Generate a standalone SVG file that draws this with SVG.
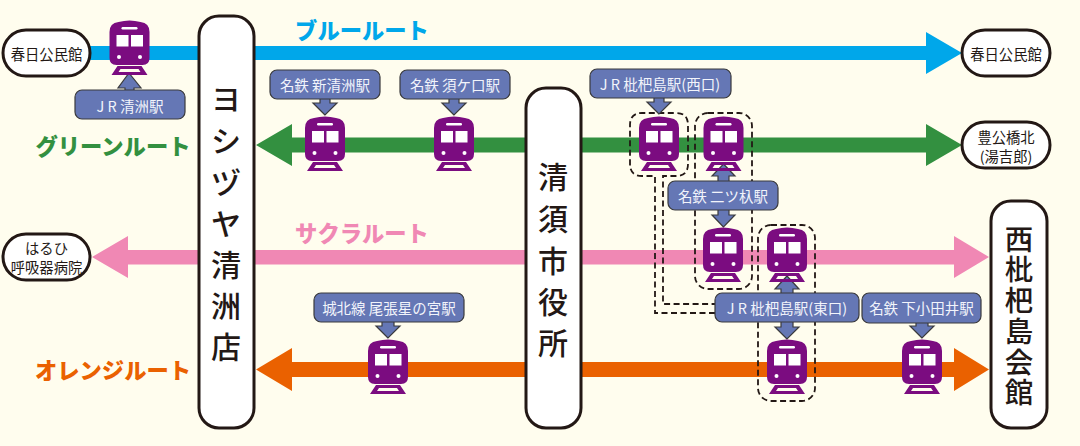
<svg xmlns="http://www.w3.org/2000/svg" xmlns:xlink="http://www.w3.org/1999/xlink" width="1080" height="446" viewBox="0 0 1080 446">
<style>
text{font-family:"Noto Sans CJK JP","Noto Sans",sans-serif;text-anchor:middle;dominant-baseline:central}
.pill,.big{fill:#fff;stroke:#231815;stroke-width:3}
.pt{font-size:14.300px;fill:#231815}
.bt{font-size:30px;fill:#231815;font-weight:500}
.bs{font-size:28.500px;fill:#231815;font-weight:500}
.lab{fill:#6577b5;stroke:#3a3a3c;stroke-width:1.2}
.lt{font-size:14.500px;fill:#f2f4fb}
.ar{fill:#6577b5;stroke:#3a3a3c;stroke-width:1.2;stroke-linejoin:miter}
.rt{font-size:22.300px;font-weight:900}
.dash{fill:none;stroke:#231815;stroke-width:1.8;stroke-dasharray:6 3.5}
</style>
<defs>
<g id="train">
<path d="M-20 12Q-20 3-11 2Q0 -1 11 2Q20 3 20 12V38Q20 45 13 45H-13Q-20 45-20 38Z" fill="#7b0c80"/>
<rect x="-8" y="7" width="16" height="2.500" rx="1.200" fill="#fff"/>
<rect x="-13" y="15" width="12" height="11.500" fill="#fff"/>
<rect x="1.500" y="15" width="12" height="11.500" fill="#fff"/>
<circle cx="-10.500" cy="37" r="2" fill="#fff"/>
<circle cx="10.500" cy="37" r="2" fill="#fff"/>
<path d="M-12 46H12L18 55H-18ZM-9 49L-11 52H11L9 49Z" fill="#7b0c80" fill-rule="evenodd"/>
</g>
</defs>
<rect width="1080" height="446" fill="#fffdee"/>
<g id="connectors">
<polygon fill="#00a7ea" points="85,46 926,46 926,32 962,53 926,74 926,60 85,60"/>
<polygon fill="#339040" points="926,137.500 926,124 962,145 926,166 926,152.500 292,152.500 292,166 256,145 292,124 292,137.500"/>
<polygon fill="#f088b4" points="954,250 954,236 989,257 954,278 954,264.500 128,264.500 128,278 92,257 128,236 128,250"/>
<polygon fill="#ea6100" points="954,362 954,348 989,369.500 954,391 954,377 292,377 292,391 256,369.500 292,348 292,362"/>
<path class="dash" d="M715 313H655V176H642Q630 176 630 164V125Q630 113 642 113H676Q688 113 688 125V164Q688 176 676 176H663V304H715"/>
<rect class="dash" x="695" y="113" width="57" height="176" rx="13"/>
<rect class="dash" x="758" y="225" width="57" height="176" rx="13"/>
<path class="ar" d="M129 73L141 88H134V91H125V88H118Z"/>
<path class="ar" d="M325 115L313 103H320V98H330V103H337Z"/>
<path class="ar" d="M454 115L442 103H449V98H459V103H466Z"/>
<path class="ar" d="M659 114L647 102H654V97H664V102H671Z"/>
<path class="ar" d="M723.500 164L735 176H729V182H718V176H712Z"/>
<path class="ar" d="M723.500 227L712 215H718V209H729V215H735Z"/>
<path class="ar" d="M787 276L799 289H793V294H781V289H775Z"/>
<path class="ar" d="M787 339L775 327H781V321H793V327H799Z"/>
<path class="ar" d="M922 338L910 326H916V322H928V326H934Z"/>
<path class="ar" d="M388 338L376 326H382V321H394V326H400Z"/>
</g>
<g id="node-kasugai-l"><rect class="pill" x="3" y="30" width="87" height="46" rx="23"/><text class="pt" x="46.500" y="53">春日公民館</text></g>
<g id="node-kasugai-r"><rect class="pill" x="962" y="30" width="88" height="46" rx="23"/><text class="pt" x="1006" y="53">春日公民館</text></g>
<g id="node-toyo"><rect class="pill" x="962" y="122" width="88" height="46" rx="23"/><text class="pt" x="1006" y="136">豊公橋北</text><text class="pt" x="1006" y="155">(湯吉郎)</text></g>
<g id="node-haruhi"><rect class="pill" x="3" y="234" width="87" height="46" rx="23"/><text class="pt" x="46.500" y="247">はるひ</text><text class="pt" x="46.500" y="266">呼吸器病院</text></g>
<g id="node-yoshizuya"><rect class="big" x="199" y="16" width="55" height="412" rx="20"/>
<text class="bt" x="226" y="97">ヨ</text><text class="bt" x="226" y="139">シ</text><text class="bt" x="226" y="181">ヅ</text><text class="bt" x="226" y="222">ヤ</text><text class="bt" x="226" y="263">清</text><text class="bt" x="226" y="304">洲</text><text class="bt" x="226" y="345">店</text></g>
<g id="node-cityhall"><rect class="big" x="526" y="88" width="55" height="340" rx="20"/>
<text class="bt" x="553" y="175">清</text><text class="bt" x="553" y="217">須</text><text class="bt" x="553" y="259">市</text><text class="bt" x="553" y="300">役</text><text class="bt" x="553" y="341">所</text></g>
<g id="node-nishibiwajima"><rect class="big" x="991" y="201" width="56" height="227" rx="20"/>
<text class="bs" x="1019" y="237">西</text><text class="bs" x="1019" y="267">枇</text><text class="bs" x="1019" y="298">杷</text><text class="bs" x="1019" y="329">島</text><text class="bs" x="1019" y="360">会</text><text class="bs" x="1019" y="390">館</text></g>
<g id="trains">
<use href="#train" xlink:href="#train" x="129.500" y="20"/>
<use href="#train" xlink:href="#train" x="325" y="116"/>
<use href="#train" xlink:href="#train" x="454" y="116"/>
<use href="#train" xlink:href="#train" x="659" y="116"/>
<use href="#train" xlink:href="#train" x="723.500" y="116"/>
<use href="#train" xlink:href="#train" x="723" y="227"/>
<use href="#train" xlink:href="#train" x="787" y="227"/>
<use href="#train" xlink:href="#train" x="388" y="339"/>
<use href="#train" xlink:href="#train" x="787" y="339"/>
<use href="#train" xlink:href="#train" x="922" y="339"/>
</g>
<g id="label-jr-kiyosu"><rect class="lab" x="75" y="90" width="110" height="29" rx="7"/><text class="lt" x="130" y="105">J R  清洲駅</text></g>
<g id="label-shinkiyosu"><rect class="lab" x="270" y="70" width="110" height="29" rx="7"/><text class="lt" x="325" y="84">名鉄 新清洲駅</text></g>
<g id="label-sukaguchi"><rect class="lab" x="400" y="70" width="110" height="29" rx="7"/><text class="lt" x="455" y="84">名鉄 須ケ口駅</text></g>
<g id="label-jr-west"><rect class="lab" x="590" y="69" width="141" height="29" rx="7"/><text class="lt" x="660" y="83">J R  枇杷島駅(西口)</text></g>
<g id="label-futatsuiri"><rect class="lab" x="668" y="181" width="110" height="29" rx="7"/><text class="lt" x="723" y="195">名鉄 二ツ杁駅</text></g>
<g id="label-jr-east"><rect class="lab" x="715" y="293" width="144" height="29" rx="7"/><text class="lt" x="787" y="307">J R  枇杷島駅(東口)</text></g>
<g id="label-shimootai"><rect class="lab" x="862" y="293" width="119" height="30" rx="7"/><text class="lt" x="921.500" y="307">名鉄 下小田井駅</text></g>
<g id="label-hoshinomiya"><rect class="lab" x="314" y="293" width="150" height="29" rx="7"/><text class="lt" x="389" y="307">城北線 尾張星の宮駅</text></g>
<g id="route-names">
<text class="rt" x="362" y="29" fill="#00a7ea">ブルールート</text>
<text class="rt" x="113" y="145" fill="#339040">グリーンルート</text>
<text class="rt" x="362" y="232" fill="#f088b4">サクラルート</text>
<text class="rt" x="113" y="369" fill="#ea6100">オレンジルート</text>
</g>
</svg>
